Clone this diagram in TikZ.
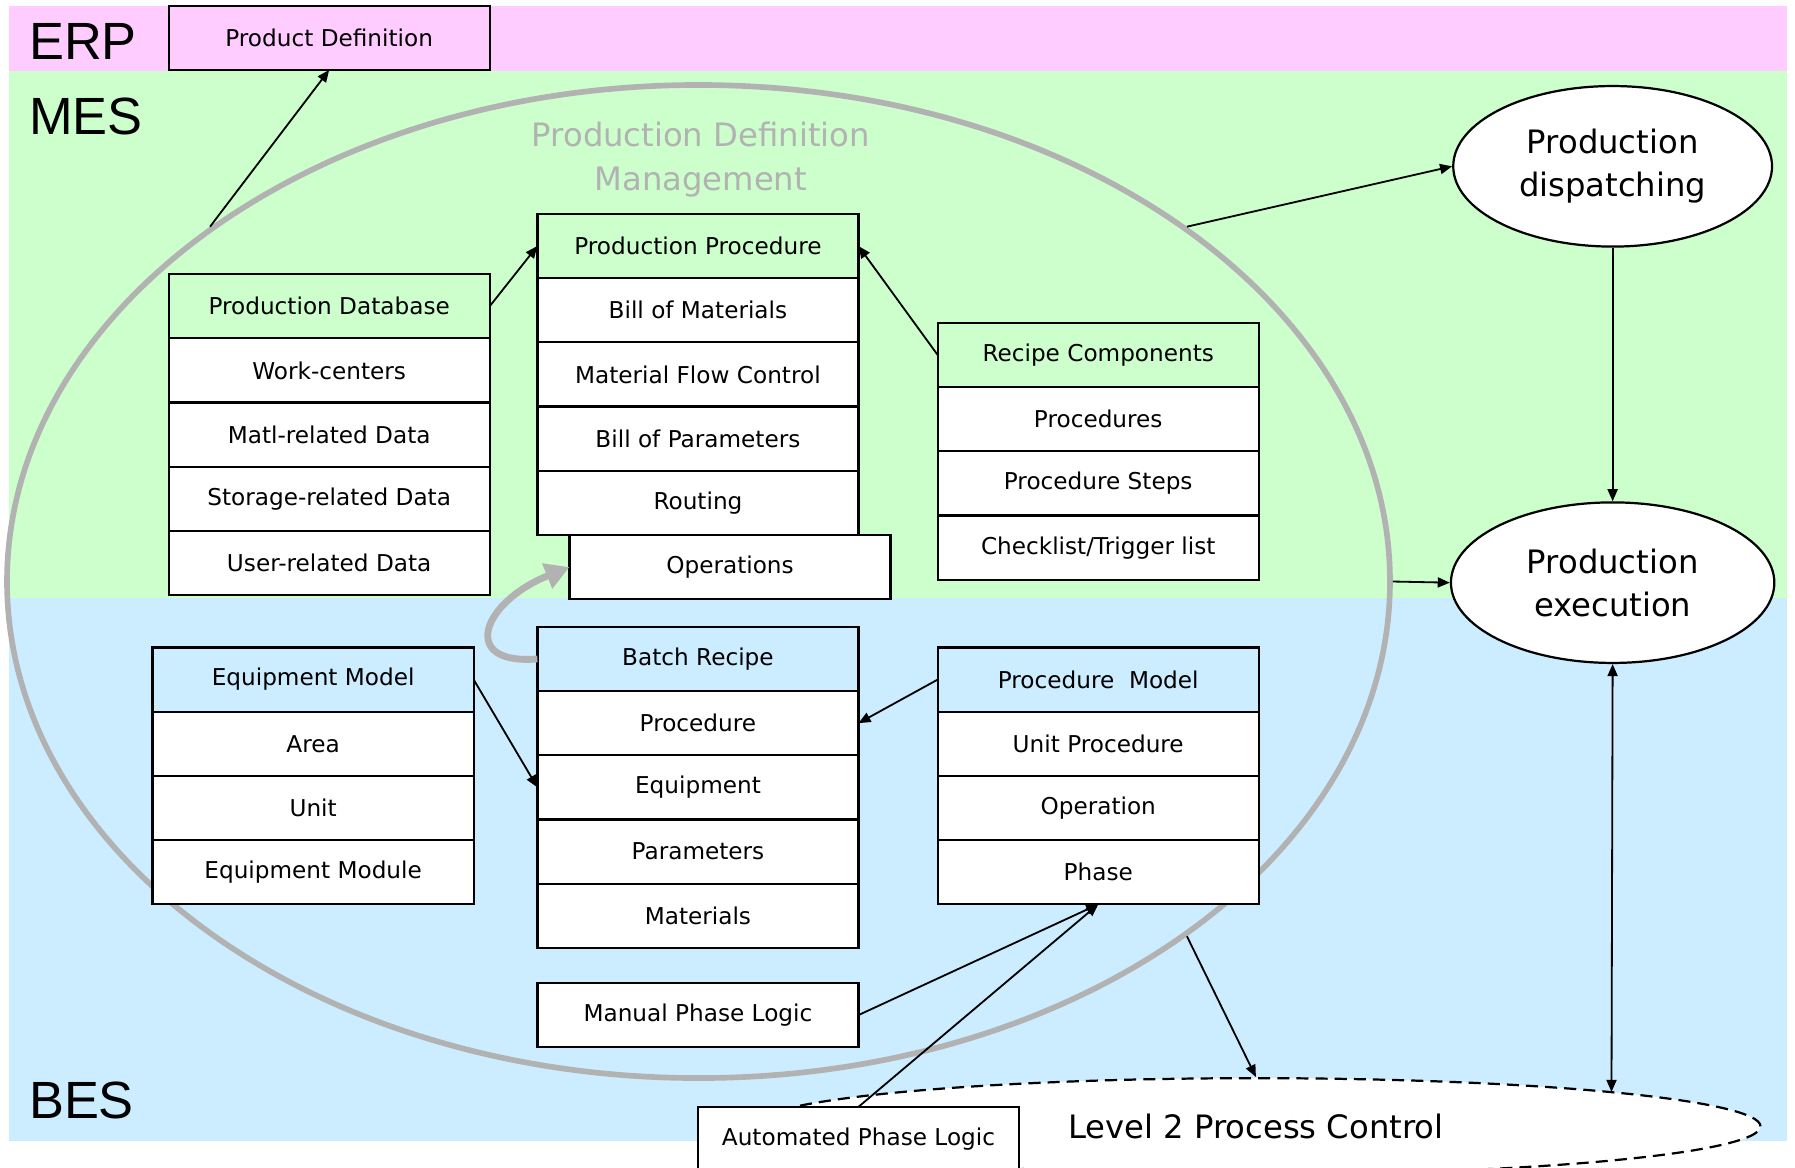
\documentclass[tikz,border=0pt]{standalone}
\usepackage{fontspec}
\setmainfont{DejaVu Sans}
\newfontfamily\layerfont{Liberation Sans}
\usetikzlibrary{positioning,shapes.geometric,arrows.meta}
\definecolor{erppink}{HTML}{FFCCFF}
\definecolor{mesgreen}{HTML}{CCFFCC}
\definecolor{besblue}{HTML}{CCECFF}
\definecolor{pdmgray}{HTML}{B2B2B2}

\begin{document}
\begin{tikzpicture}[x=0.02cm, y=-0.02cm,
  cell/.style={rectangle, draw=black, line width=1.1pt, fill=white, minimum width=5.6cm, minimum height=1.12cm, inner sep=0pt, outer sep=0pt, font=\fontsize{11.5}{14}\selectfont},
  greenhead/.style={cell, fill=mesgreen},
  bluehead/.style={cell, fill=besblue},
  bigoval/.style={ellipse, draw=black, line width=1.1pt, fill=white, inner sep=0pt, align=center, font=\fontsize{16}{21.5}\selectfont},
  layer/.style={anchor=base west, inner sep=0pt, font=\layerfont\fontsize{26}{30}\selectfont},
  link/.style={-{Triangle[length=6pt,width=5pt]}, line width=0.9pt},
  twoway/.style={{Triangle[length=6pt,width=5pt]}-{Triangle[length=6pt,width=5pt]}, line width=0.9pt}]

\useasboundingbox (0,0) rectangle (1565,1018.3);

% Уровни
\fill[erppink] (8,5) rectangle (1558,62);
\fill[mesgreen] (8,62) rectangle (1558,521);
\fill[besblue] (8,521) rectangle (1558,995);
\node (erp) [layer] at (25,52) {ERP};
\node (mes) [layer] at (25,117) {MES};
\node (bes) [layer] at (25,975) {BES};

% Production Definition Management
\node (pdm) [ellipse, draw=pdmgray, line width=2.8pt, minimum width=24.12cm, minimum height=17.32cm, inner sep=0pt] at (609,507) {};
\node (pdmtitle) [text=pdmgray, align=center, font=\fontsize{16}{22}\selectfont] at (611,139) {Production Definition\\Management};

% Level 2
\node (level2) [bigoval, dashed, dash pattern=on 6pt off 3.5pt, minimum width=17.6cm, minimum height=1.68cm, font=\fontsize{16}{20}\selectfont] at (1095,982) {Level 2 Process Control};
\coordinate (l2hit) at (1405,952);

% ERP
\node (proddef) [cell, fill=erppink] at (287,33) {Product Definition};

% Production Database
\node (database) [greenhead] at (287,267) {Production Database};
\node (workcenters) [cell, below=0pt of database] {Work-centers};
\node (matldata) [cell, below=0pt of workcenters] {Matl-related Data};
\node (storagedata) [cell, below=0pt of matldata] {Storage-related Data};
\node (userdata) [cell, below=0pt of storagedata] {User-related Data};

% Production Procedure
\node (procedure) [greenhead] at (608.5,214.5) {Production Procedure};
\node (bom) [cell, below=0pt of procedure] {Bill of Materials};
\node (flow) [cell, below=0pt of bom] {Material Flow Control};
\node (bop) [cell, below=0pt of flow] {Bill of Parameters};
\node (routing) [cell, below=0pt of bop] {Routing};
\node (operations) [cell, below=0pt of routing, xshift=0.56cm] {Operations};

% Recipe Components
\node (recipe) [greenhead] at (957.5,309.5) {Recipe Components};
\node (procedures) [cell, below=0pt of recipe] {Procedures};
\node (steps) [cell, below=0pt of procedures] {Procedure Steps};
\node (checklist) [cell, below=0pt of steps] {Checklist/Trigger list};

% Equipment Model
\node (equipmodel) [bluehead] at (273,592.5) {Equipment Model};
\node (area) [cell, below=0pt of equipmodel] {Area};
\node (unit) [cell, below=0pt of area] {Unit};
\node (module) [cell, below=0pt of unit] {Equipment Module};

% Batch Recipe
\node (batch) [bluehead] at (608.5,574.5) {Batch Recipe};
\node (brprocedure) [cell, below=0pt of batch] {Procedure};
\node (equipment) [cell, below=0pt of brprocedure] {Equipment};
\node (parameters) [cell, below=0pt of equipment] {Parameters};
\node (materials) [cell, below=0pt of parameters] {Materials};

% Procedure Model
\node (procmodel) [bluehead] at (957.5,592.5) {Procedure~~Model};
\node (unitproc) [cell, below=0pt of procmodel] {Unit Procedure};
\node (operation) [cell, below=0pt of unitproc] {Operation};
\node (phase) [cell, below=0pt of operation] {Phase};

% Phase Logic
\node (manual) [cell] at (608.5,885) {Manual Phase Logic};
\node (automated) [cell] at (748.5,993) {Automated Phase Logic};

% Production dispatching / execution
\node (dispatch) [bigoval, minimum width=5.56cm, minimum height=2.8cm] at (1406,145) {Production\\dispatching};
\node (execution) [bigoval, minimum width=5.64cm, minimum height=2.8cm] at (1406,508) {Production\\execution};

% Связи
\draw[link] (pdm.144) -- (proddef.south);
\draw[link] (database.east) -- (procedure.west);
\draw[link] (recipe.west) -- (procedure.east);
\draw[link] (pdm.36) -- (dispatch.west);
\draw[link] (dispatch.south) -- (execution.north);
\draw[link] (pdm.east) -- (execution.west);
\draw[link] (equipmodel.east) -- (equipment.west);
\draw[link] (procmodel.west) -- (brprocedure.east);
\draw[link] (manual.east) -- (phase.south);
\draw[link] (automated.north) -- (phase.south);
\draw[link] (pdm.-36) -- (level2.north);
\draw[twoway] (execution.south) -- (l2hit);
\draw[pdmgray, line width=3.4pt, -{Triangle[length=0.42cm,width=0.45cm]}] (batch.west) .. controls (400,580) and (420,525) .. (operations.west);

\end{tikzpicture}
\end{document}
